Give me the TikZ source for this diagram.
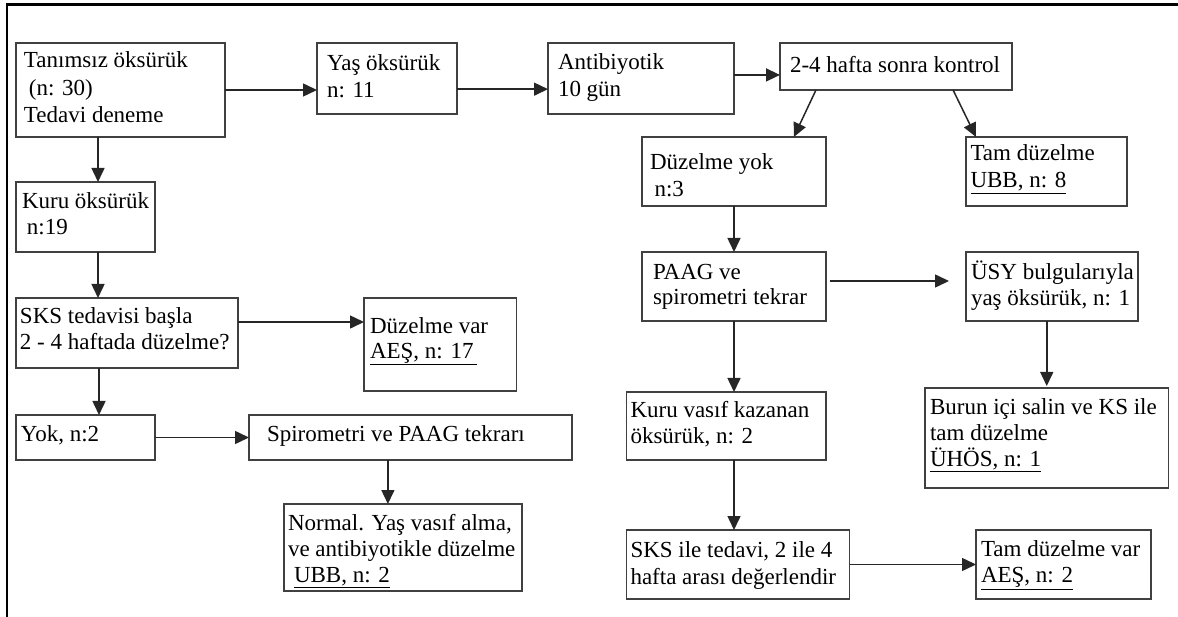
\documentclass[tikz,border=0pt]{standalone}
\usepackage{fontspec}
\setmainfont{Liberation Serif}
\usetikzlibrary{arrows.meta,calc}
\definecolor{boxgray}{HTML}{404040}
\definecolor{arrgray}{HTML}{262626}
% #1 width, #2 height, #3 left pad, #4 first baseline, #5 baselineskip, #6 text
\newcommand\bxt[6]{\parbox[c][#2][t]{#1}{\raggedright\setlength{\leftskip}{#3}\setlength{\baselineskip}{#5}\rule{0pt}{#4}#6\par}}
\begin{document}
\begin{tikzpicture}[x=1pt,y=-1pt,
  font=\fontsize{23}{26}\selectfont,
  bx/.style={draw=boxgray, line width=1.3pt, inner sep=0pt, outer sep=0pt, anchor=north west},
  arr/.style={draw=arrgray, line width=1.5pt, -{Triangle[length=14pt,width=13pt]}},
  frame/.style={draw=black, line width=2.2pt}]
\useasboundingbox (0,0) rectangle (1178,617);
\draw[frame] (6.7,617) -- (6.7,4.5) -- (1178,4.5);

% left column
\node[bx] (tan) at (16,43) {\bxt{209pt}{94pt}{8pt}{25pt}{27.5pt}{Tanımsız öksürük\\\hspace*{5pt}(n: 30)\\Tedavi deneme}};
\node[bx] (ko) at (16,182) {\bxt{139pt}{70pt}{6pt}{26.3pt}{26.7pt}{Kuru öksürük\\\hspace*{5pt}n:19}};
\node[bx] (sks) at (16,298) {\bxt{222pt}{70pt}{4pt}{26pt}{26pt}{SKS tedavisi başla\\2 - 4 haftada düzelme?}};
\node[bx] (dv) at (364,298) {\bxt{152.6pt}{93pt}{6pt}{35.3pt}{25pt}{Düzelme var\\\underline{AEŞ, n: 17\hspace*{3pt}}}};
\node[bx] (yok) at (16,415) {\bxt{139pt}{45pt}{5pt}{26.7pt}{26pt}{Yok, n:2}};
\node[bx] (spi) at (249,415) {\bxt{323pt}{45pt}{18pt}{26.7pt}{26pt}{Spirometri ve PAAG tekrarı}};
\node[bx] (nor) at (284,504) {\bxt{238pt}{87pt}{4pt}{26.7pt}{26pt}{Normal. Yaş vasıf alma,\\ve antibiyotikle düzelme\\\hspace*{6pt}\underline{UBB, n: 2}}};

% top row
\node[bx] (yas) at (317,43) {\bxt{140pt}{71pt}{10pt}{27.5pt}{27pt}{Yaş öksürük\\n: 11}};
\node[bx] (ant) at (548,43) {\bxt{186pt}{71pt}{10pt}{27pt}{27pt}{Antibiyotik\\10 gün}};
\node[bx] (ctl) at (780,43) {\bxt{232pt}{47pt}{10pt}{30pt}{26pt}{2-4 hafta sonra kontrol}};

% right part
\node[bx] (dy) at (642,137) {\bxt{184pt}{69pt}{8pt}{33pt}{26.7pt}{Düzelme yok\\\hspace*{4.5pt}n:3}};
\node[bx] (tam) at (966,137) {\bxt{161pt}{69pt}{4.5pt}{24pt}{27pt}{Tam düzelme\\\underline{UBB, n: 8}}};
\node[bx] (paag) at (642,252) {\bxt{184pt}{69pt}{11pt}{27.3pt}{25.7pt}{PAAG ve\\spirometri tekrar}};
\node[bx] (usy) at (966,252) {\bxt{172pt}{69pt}{5pt}{28pt}{25.7pt}{ÜSY bulgularıyla\\yaş öksürük, n: 1}};
\node[bx] (kv) at (626.5,392) {\bxt{199.5pt}{68pt}{4pt}{25.3pt}{26pt}{Kuru vasıf kazanan\\öksürük, n: 2}};
\node[bx] (bur) at (925,388) {\bxt{243.5pt}{100pt}{5pt}{26pt}{26pt}{Burun içi salin ve KS ile\\tam düzelme\\\underline{ÜHÖS, n: 1}}};
\node[bx] (ski) at (626.5,530) {\bxt{223pt}{69pt}{4pt}{27.7pt}{26.3pt}{SKS ile tedavi, 2 ile 4\\hafta arası değerlendir}};
\node[bx] (tdv) at (976,530) {\bxt{175pt}{69pt}{5pt}{26.7pt}{26pt}{Tam düzelme var\\\underline{AEŞ, n: 2}}};

% connector end points on box edges
\coordinate (yasR) at ($(yas.north east)!0.65!(yas.south east)$);
\coordinate (antR) at ($(ant.north east)!0.45!(ant.south east)$);
\coordinate (ctlA) at ($(ctl.south west)!0.155!(ctl.south east)$);
\coordinate (ctlB) at ($(ctl.south west)!0.746!(ctl.south east)$);
\coordinate (dyT) at ($(dy.north west)!0.825!(dy.north east)$);
\coordinate (tamT) at ($(tam.north west)!0.062!(tam.north east)$);
\coordinate (sksR) at ($(sks.north east)!0.343!(sks.south east)$);
\coordinate (spiB) at ($(spi.south west)!0.43!(spi.south east)$);

% connectors
\draw[arr] (tan.east) -- (tan.east -| yas.west);
\draw[arr] (yasR) -- (yasR -| ant.west);
\draw[arr] (antR) -- (antR -| ctl.west);
\draw[arr] (ctlA) -- (dyT);
\draw[arr] (ctlB) -- (tamT);
\draw[arr] (dy.south) -- (dy.south |- paag.north);
\draw[arr] ([shift={(4,-5.5)}]paag.east) -- ([shift={(-17,-5.5)}]usy.west);
\draw[arr] (usy.south -| bur.north) -- ([yshift=2pt]bur.north);
\draw[arr] (paag.south) -- (paag.south |- kv.north);
\draw[arr] (paag.south |- kv.south) -- (paag.south |- ski.north);
\draw[arr] (ski.east) -- (ski.east -| tdv.west);

\draw[arr] ([xshift=82]tan.south west) -- ([xshift=82]tan.south west |- ko.north);
\draw[arr] ([xshift=82]tan.south west |- ko.south) -- ([xshift=82]tan.south west |- sks.north);
\draw[arr] (sksR) -- (sksR -| dv.west);
\draw[arr] ([xshift=83]sks.south west) -- ([xshift=83]sks.south west |- yok.north);
\draw[arr] (yok.east) -- (yok.east -| spi.west);
\draw[arr] (spiB) -- (spiB |- nor.north);
\end{tikzpicture}
\end{document}
